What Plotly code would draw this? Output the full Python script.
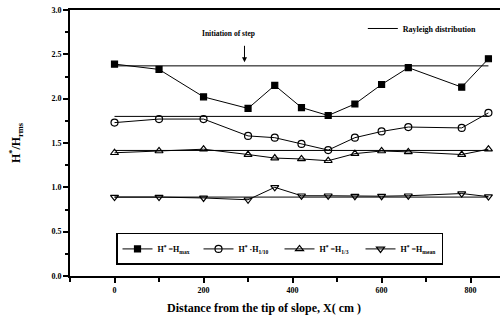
import plotly.graph_objects as go

x_cm = [0, 100, 200, 300, 360, 420, 480, 540, 600, 660, 780, 840]
h_max = [2.39, 2.33, 2.02, 1.89, 2.15, 1.90, 1.81, 1.94, 2.16, 2.35, 2.13, 2.45]
h_10 = [1.73, 1.77, 1.77, 1.58, 1.56, 1.49, 1.42, 1.56, 1.63, 1.68, 1.67, 1.84]
h_3 = [1.39, 1.41, 1.43, 1.37, 1.33, 1.32, 1.30, 1.38, 1.41, 1.40, 1.37, 1.43]
h_mean = [0.89, 0.89, 0.88, 0.86, 1.00, 0.905, 0.905, 0.90, 0.90, 0.905, 0.93, 0.895]
rayleigh_x = [0, 840]
rayleigh_vals = [2.37, 1.80, 1.416, 0.89]
x_ticks = [0, 200, 400, 600, 800]
y_ticks = [0, 0.5, 1.0, 1.5, 2.0, 2.5, 3.0]

FONT = "Liberation Serif"
fig = go.Figure()

for i, v in enumerate(rayleigh_vals):
    fig.add_trace(go.Scatter(
        x=rayleigh_x, y=[v, v], mode="lines",
        line=dict(color="black", width=1),
        name="<b>Rayleigh distribution</b>", legend="legend2",
        showlegend=(i == 0), hoverinfo="skip"))

series = [
    (h_max, "square", "<b>H<sup>*</sup> =H<sub>max</sub></b>", 6),
    (h_10, "circle-open", "<b>H<sup>*</sup> ·H<sub>1/10</sub></b>", 7),
    (h_3, "triangle-up-open", "<b>H<sup>*</sup> =H<sub>1/3</sub></b>", 7),
    (h_mean, "triangle-down-open", "<b>H<sup>*</sup> =H<sub>mean</sub></b>", 7),
]
for ys, sym, name, sz in series:
    fig.add_trace(go.Scatter(
        x=x_cm, y=ys, mode="lines+markers", name=name,
        line=dict(color="black", width=1),
        marker=dict(symbol=sym, size=sz, color="black",
                    line=dict(color="black", width=1.2))))

fig.update_layout(
    width=500, height=320,
    margin=dict(l=70, r=0, t=10, b=44),
    paper_bgcolor="white", plot_bgcolor="white",
    font=dict(family=FONT, color="black", size=9),
    legend=dict(orientation="h", x=0.107, y=0.162, xanchor="left", yanchor="top",
                bordercolor="black", borderwidth=1.5, bgcolor="white",
                font=dict(family=FONT, size=8), entrywidth=36, itemwidth=30,
                tracegroupgap=0),
    legend2=dict(x=0.681, y=0.985, xanchor="left", yanchor="top",
                 bgcolor="rgba(0,0,0,0)", font=dict(family=FONT, size=8),
                 itemwidth=30),
)
fig.update_xaxes(
    range=[-100, 866], showgrid=False, zeroline=False,
    showline=True, linecolor="black", linewidth=2, mirror=True,
    ticks="outside", ticklen=5, tickwidth=1.5, tickcolor="black",
    tickvals=x_ticks, ticktext=["<b>%d</b>" % t for t in x_ticks],
    tickfont=dict(family=FONT, size=8),
    minor=dict(dtick=100, tick0=0, ticks="outside", ticklen=4, tickcolor="black"))
fig.update_yaxes(
    range=[0, 3.0], showgrid=False, zeroline=False,
    showline=True, linecolor="black", linewidth=2,
    ticks="outside", ticklen=5, tickwidth=1.5, tickcolor="black",
    tickvals=y_ticks, ticktext=["<b>%.1f</b>" % t for t in y_ticks],
    tickfont=dict(family=FONT, size=8),
    minor=dict(dtick=0.25, tick0=0, ticks="outside", ticklen=3, tickcolor="black"),
    title=dict(text="<b>H<sup>*</sup>/H<sub>rms</sub></b>",
               font=dict(family=FONT, size=12), standoff=28))

fig.add_annotation(xref="paper", yref="paper", x=0.451, y=-0.12, yanchor="middle",
                   text="<b>Distance from the tip of slope, X( cm )</b>",
                   showarrow=False, font=dict(family=FONT, size=12))
fig.add_annotation(x=257, y=2.74, text="<b>Initiation of step</b>", showarrow=False,
                   font=dict(family=FONT, size=7.5))
fig.add_annotation(x=292, y=2.41, text="", showarrow=True, ax=0, ay=-18,
                   arrowhead=2, arrowsize=1, arrowwidth=1, arrowcolor="black")

fig.write_html("out.html", config={"displayModeBar": False},
               post_script="document.body.style.margin='0px';")
